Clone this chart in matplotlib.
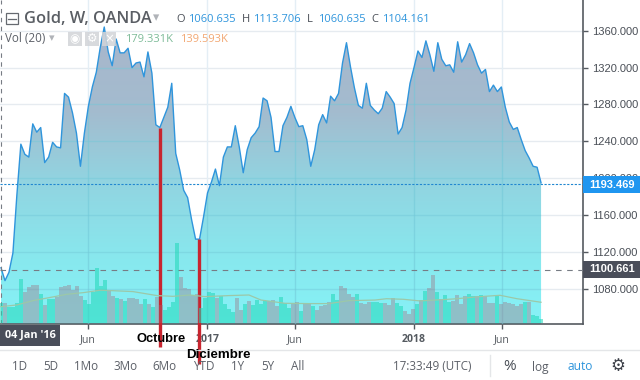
import numpy as np
import matplotlib
matplotlib.use("Agg")
import matplotlib.pyplot as plt
from matplotlib.colors import LinearSegmentedColormap
from matplotlib.patches import Rectangle, PathPatch
from matplotlib.path import Path

price = [1103,1089,1098,1119,1182,1237,1226,1223,1259,1250,1255,1217,1223,1239,1234,1233,1292,1288,1271,1249,
         1213,1249,1278,1299,1315,1342,1364,1337,1322,1351,1336,1336,1341,1320,1325,1326,1310,1337,1314,1258,
         1255,1266,1277,1303,1227,1209,1187,1179,1155,1134,1134,1158,1184,1196,1210,1192,1223,1234,1234,1257,
         1234,1206,1231,1244,1249,1256,1287,1284,1266,1229,1229,1257,1266,1278,1266,1256,1257,1242,1213,1231,
         1258,1269,1260,1289,1284,1292,1325,1347,1321,1298,1279,1276,1303,1279,1274,1270,1276,1294,1288,1281,
         1248,1255,1274,1303,1320,1338,1331,1349,1334,1316,1347,1329,1322,1323,1315,1348,1326,1334,1346,1336,
         1323,1314,1318,1294,1301,1294,1299,1277,1261,1253,1255,1242,1230,1222,1213,1212,1195]
volume = [137,133,110,110,133,297,212,243,257,257,194,122,160,160,178,243,248,257,223,250,
          182,155,128,212,369,250,290,223,180,171,162,149,167,169,162,126,162,126,108,176,
          122,90,108,144,540,310,234,230,189,196,99,171,207,203,171,185,128,95,77,171,
          88,126,149,122,155,126,149,149,155,117,176,133,104,128,140,81,131,131,115,88,
          115,122,140,196,155,250,234,196,176,196,137,128,144,144,144,137,137,122,171,137,
          115,83,61,95,128,155,216,239,324,212,160,189,144,149,189,128,185,196,185,180,
          189,180,137,137,189,126,144,133,126,117,126,142,142,54,45,27]
vol_up = "grggggrrrrgrggrrrrrrrgggggg"\
         "rrgrgrrrrgrgrrggggrrrrrggggrg"\
         "gggrrgrggggrrrgggrrgrrgrrrrg"\
         "grrrrgrrrgggrrrggrrrgrgrrgrg"\
         "grrrrggrgrrrgrrrrrr"
ma_week = [0,4,8,12,16.5,20.6,24.75,28,33,39,43,47.25,51,57,62,65,71,77,82,87,93.5,96.4,100.6,104.75,113,119.75,124.75,129,135]
ma_vol = [110,122,151,171,194,205,221,218,212,185,180,189,178,185,189,155,133,131,131,151,155,164,160,149,162,178,187,164,140]
price_ticks = [1080,1120,1160,1200,1240,1280,1320,1360]
date_ticks = [21.9,52,74,104,126.2]
date_labels = ["Jun","2017","Jun","2018","Jun"]
last_price = 1193.469
hover_price = 1100.661
october_week, october_price = 40, 1255
december_week, december_price = 49.75, 1134
ranges = ["1D","5D","1Mo","3Mo","6Mo","YTD","1Y","5Y","All"]

plt.rcParams['font.family'] = ['Open Sans', 'DejaVu Sans']
W, H = 640, 380
fig = plt.figure(figsize=(6.4, 3.8), dpi=100, facecolor='white')
ax = fig.add_axes([0, 1-324/H, 583/W, 324/H])
ax.set_xlim(-0.252, 146.56)
ax.set_ylim(1042, 1393.3)
ax.set_facecolor('white')
for s in ['top', 'left']:
    ax.spines[s].set_visible(False)
ax.spines['right'].set_color('#555a60')
ax.spines['bottom'].set_color('#555a60')
ax.spines['right'].set_linewidth(1.2)
ax.spines['bottom'].set_linewidth(1.2)
ax.yaxis.tick_right()
ax.set_yticks(price_ticks)
ax.set_yticklabels([f"{p}.000" for p in price_ticks], fontsize=8, color='#4a4f57', family='Liberation Sans')
ax.set_xticks(date_ticks)
ax.set_xticklabels(date_labels, fontsize=7.6, color='#555a60')
ax.get_xticklabels()[1].set_fontweight('bold')
ax.get_xticklabels()[3].set_fontweight('bold')
ax.tick_params(axis='both', length=3.5, width=1, color='#555a60', pad=3)
ax.tick_params(axis='x', pad=3.5)

# grid
for p in price_ticks:
    ax.axhline(p, color='#e6ebf0', lw=1, zorder=1)
for d in date_ticks:
    ax.axvline(d, color='#e4eef5', lw=1, zorder=1)

# gradient fill under line
x = np.arange(len(price))
poly = np.column_stack([np.r_[x[0], x, x[-1]], np.r_[1042, price, 1042]])
cmap = LinearSegmentedColormap.from_list('g', [(0, '#aab4ca'), (0.35, '#a3bccf'), (0.55, '#92d3e0'), (0.8, '#88e8ee'), (1, '#86f2f7')])
im = ax.imshow(np.linspace(0, 1, 256)[:, None], extent=[-0.252, 146.56, 1042, 1393.3], aspect='auto', cmap=cmap, zorder=2, origin='upper')
clip = PathPatch(Path(poly), transform=ax.transData, fc='none', ec='none')
ax.add_patch(clip)
im.set_clip_path(clip)
for p in price_ticks:
    l = ax.axhline(p, color='#72c8d8', lw=1, alpha=0.45, zorder=3)
    l.set_clip_path(clip)
for d in date_ticks:
    l = ax.axvline(d, color='#72c8d8', lw=1, alpha=0.55, zorder=3)
    l.set_clip_path(clip)
ax.plot(x, price, color='#2f95dc', lw=1.0, zorder=6)

# volume pane
vx = fig.add_axes(ax.get_position())
vx.patch.set_alpha(0)
vx.axis('off')
vx.set_xlim(-0.25, 145.5)
vx.set_ylim(-6.75, 2180)
vcolors = [('#20d8b8', 0.55) if c == 'g' else ('#a06878', 0.36) for c in vol_up[:len(volume)]]
vx.bar(np.arange(len(volume)), volume, width=1.0, color=vcolors, zorder=4)
vx.plot(ma_week, ma_vol, color='#9cc8a8', lw=0.9, zorder=5)

# reference lines
ax.axhline(hover_price, color='#777c84', lw=0.8, dashes=(5, 5), zorder=7)
ax.axhline(last_price, color='#2187d0', lw=0.8, dashes=(2, 1.4), zorder=7)
ax.axvline(0.0, color='#777c84', lw=0.8, dashes=(4, 4), zorder=7)

# red markers
ax.plot([october_week]*2, [october_price, 1017], color='#c8252f', lw=2.4, clip_on=False, zorder=9, solid_capstyle='butt')
ax.plot([december_week]*2, [december_price, 999], color='#c8252f', lw=2.4, clip_on=False, zorder=9, solid_capstyle='butt')

def T(px, py, s, **k):
    k.setdefault('va', 'center')
    k.setdefault('ha', 'left')
    k.setdefault('zorder', 20)
    return fig.text(px/W, 1-py/H, s, **k)

def R(px, py, w, h, **k):
    k.setdefault('zorder', 15)
    fig.add_artist(Rectangle((px/W, 1-(py+h)/H), w/W, h/H, transform=fig.transFigure, **k))

# price flags
R(583, 176, 57, 17, fc='#1f96f0', ec='none')
T(612, 184.5, "1193.469", color='white', fontsize=8, fontweight='bold', ha='center', family='Liberation Sans')
R(583, 261, 57, 17, fc='#4a4e5a', ec='none')
T(612, 269.5, "1100.661", color='white', fontsize=8, fontweight='bold', ha='center', family='Liberation Sans')
R(0, 325, 60, 21, fc='#4a4e5a', ec='none')
T(30, 335, "04 Jan '16", color='white', fontsize=7.8, fontweight='bold', ha='center')

# red labels
T(161, 339.5, "Octubre", color='black', fontsize=9.3, fontweight='bold', ha='center', family='Liberation Sans', zorder=25)
T(218, 355, "Diciembre", color='black', fontsize=9.6, fontweight='bold', ha='center', family='Liberation Sans', zorder=25)

# bottom toolbar
fig.add_artist(plt.Line2D([0, 1], [1-350/H]*2, color='#e4e6e8', lw=1))
for px, s in zip([20, 51, 86, 125, 164, 204, 238, 268, 298], ranges):
    T(px, 367, s, color='#5c6068', fontsize=8.4, ha='center')
T(432, 367, "17:33:49 (UTC)", color='#5c6068', fontsize=8.4, ha='center')
fig.add_artist(plt.Line2D([490/W]*2, [1-355/H, 1-376/H], color='#e4e6e8', lw=1))
T(510, 366, "%", color='#4a4f57', fontsize=11, ha='center')
T(540, 367, "log", color='#5c6068', fontsize=8.6, ha='center')
T(580, 367, "auto", color='#2f95dc', fontsize=8.6, ha='center')
T(618, 366, "\u2699", color='#3c4048', fontsize=12, ha='center', family='DejaVu Sans')

# header
R(5.5, 13, 12, 11, fc='none', ec='#666a70', lw=0.9)
fig.add_artist(plt.Line2D([7.5/W, 15.5/W], [1-18.5/H]*2, color='#666a70', lw=0.9, zorder=20))
T(24, 19, "Gold, W, OANDA", color='#5a5e64', fontsize=11.8, fontweight='semibold')
T(153, 18, "\u25be", color='#b0b3b8', fontsize=9, family='DejaVu Sans')
hdr = [(176, "O", '#4a4f57'), (188, "1060.635", '#2f95dc'), (242, "H", '#4a4f57'), (253, "1113.706", '#2f95dc'),
       (307, "L", '#4a4f57'), (318, "1060.635", '#2f95dc'), (371, "C", '#4a4f57'), (382, "1104.161", '#2f95dc')]
for px, s, c in hdr:
    T(px, 19, s, color=c, fontsize=8)
T(5, 39, "Vol (20)", color='#5c6068', fontsize=8.4)
T(49, 38.5, "\u25be", color='#b0b3b8', fontsize=8, family='DejaVu Sans')
for px, s in zip([68, 85, 102], ["\u25c9", "\u2699", "\u00d7"]):
    R(px, 32, 14, 14, fc='#d2d4d8', ec='none', alpha=0.85)
    T(px+7, 39, s, color='white', fontsize=8.5, ha='center', family='DejaVu Sans')
T(125, 39, "179.331K", color='#7dbb98', fontsize=8)
T(180, 39, "139.593K", color='#f2a772', fontsize=8)

fig.savefig('out.png', dpi=100)
